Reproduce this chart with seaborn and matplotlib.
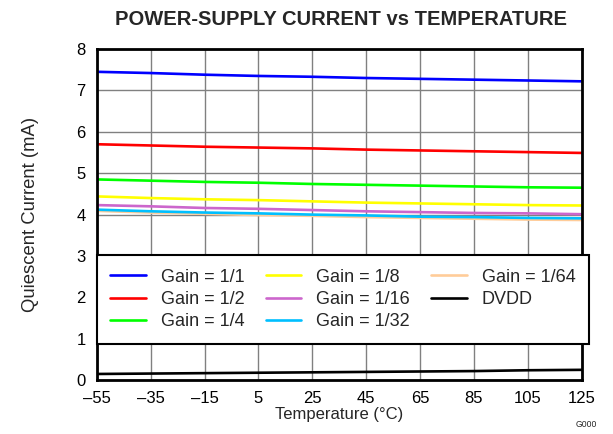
import numpy as np
import pandas as pd
import matplotlib
matplotlib.use("Agg")
import matplotlib.pyplot as plt
import seaborn as sns

# Data
temps = [-55, -35, -15, 5, 25, 45, 65, 85, 105, 125]
gain_1_1 = [7.45, 7.42, 7.38, 7.35, 7.33, 7.30, 7.28, 7.26, 7.24, 7.22]
gain_1_2 = [5.70, 5.67, 5.64, 5.62, 5.60, 5.57, 5.55, 5.53, 5.51, 5.49]
gain_1_4 = [4.85, 4.82, 4.79, 4.77, 4.74, 4.72, 4.70, 4.68, 4.66, 4.65]
gain_1_8 = [4.44, 4.40, 4.37, 4.35, 4.32, 4.29, 4.27, 4.25, 4.23, 4.22]
gain_1_16 = [4.23, 4.20, 4.16, 4.14, 4.11, 4.08, 4.06, 4.04, 4.03, 4.01]
gain_1_32 = [4.12, 4.08, 4.05, 4.03, 4.00, 3.98, 3.95, 3.94, 3.92, 3.91]
gain_1_64 = [4.09, 4.05, 4.02, 3.99, 3.97, 3.94, 3.92, 3.90, 3.88, 3.87]
dvdd = [0.15, 0.16, 0.17, 0.18, 0.19, 0.20, 0.21, 0.22, 0.24, 0.25]

labels = ["Gain = 1/1", "Gain = 1/2", "Gain = 1/4", "Gain = 1/8",
          "Gain = 1/16", "Gain = 1/32", "Gain = 1/64", "DVDD"]
series = [gain_1_1, gain_1_2, gain_1_4, gain_1_8,
          gain_1_16, gain_1_32, gain_1_64, dvdd]
colors = ["#0000FF", "#FF0000", "#00FF00", "#FFFF00",
          "#CC66CC", "#00BFFF", "#FFCC99", "#000000"]

df = pd.concat([pd.DataFrame({"Temp": temps, "Current": s, "Series": lab})
                for lab, s in zip(labels, series)], ignore_index=True)

sns.set_style("white")
plt.rcParams["font.family"] = ["Liberation Sans", "DejaVu Sans"]

fig = plt.figure(figsize=(6.13, 4.34), dpi=100)
ax = fig.add_axes([0.158, 0.124, 0.791, 0.763])

sns.lineplot(data=df, x="Temp", y="Current", hue="Series", hue_order=labels,
             palette=colors, linewidth=1.9, ax=ax, legend=False)

# put 1/64 under 1/32 like the reference
for i, line in enumerate(ax.get_lines()):
    line.set_zorder(3 if labels[i] == "Gain = 1/64" else 4)

ax.set_xlim(-55, 125)
ax.set_ylim(0, 8)
ax.set_xticks(temps)
ax.set_xticklabels([str(t).replace("-", "\u2013") for t in temps])
ax.set_yticks(range(0, 9))
ax.tick_params(axis="both", length=0, labelsize=12, colors="black")
ax.tick_params(axis="x", pad=7.5)
ax.tick_params(axis="y", pad=8)
ax.grid(True, color="#808080", linewidth=1)
for sp in ax.spines.values():
    sp.set_color("black")
    sp.set_linewidth(2)
    sp.set_zorder(5)

ax.set_xlabel("Temperature (\u00b0C)", fontsize=12, labelpad=1)
ax.set_ylabel("Quiescent Current (mA)", fontsize=13.3, labelpad=27)
fig.suptitle("POWER-SUPPLY CURRENT vs TEMPERATURE", fontsize=14.5,
             fontweight="bold", x=0.557, y=0.978)

handles = [plt.Line2D([], [], color=c, linewidth=1.9) for c in colors]
leg = ax.legend(handles, labels, ncol=3, loc="upper left",
                bbox_to_anchor=(0.0, 0.378), borderaxespad=0,
                fontsize=13, frameon=True, fancybox=False,
                handlelength=1.95, handletextpad=0.83, columnspacing=1.2,
                labelspacing=0.3, borderpad=0.75)
leg.get_frame().set_edgecolor("black")
leg.get_frame().set_linewidth(1.5)
leg.get_frame().set_alpha(1)
leg.set_zorder(6)

fig.text(0.957, 0.017, "G000", fontsize=6.2, ha="center")

fig.savefig("out.png", dpi=100)
